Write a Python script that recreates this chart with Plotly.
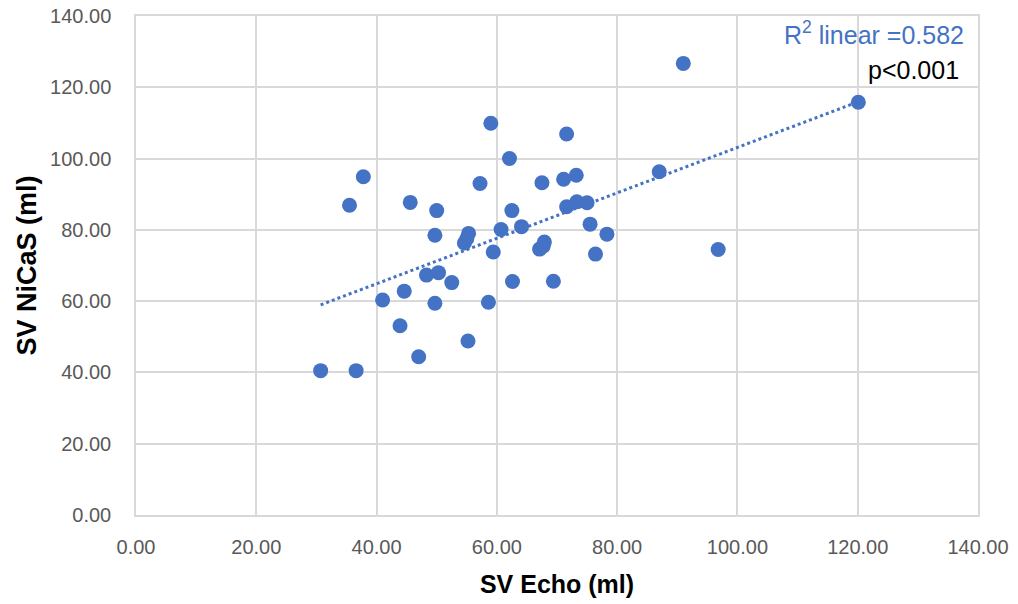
import numpy as np
import plotly.graph_objects as go

sv_echo = [59.0, 71.6, 62.1, 37.8, 57.2, 67.5, 71.1, 73.2, 35.5, 45.6,
           50.0, 62.5, 71.6, 73.3, 75.0, 75.5, 78.3, 76.4, 49.7, 55.3,
           55.0, 54.6, 60.7, 64.1, 59.4, 67.1, 67.7, 67.9, 48.3, 50.3,
           52.5, 62.6, 69.4, 44.6, 41.0, 49.7, 58.6, 43.9, 55.2, 47.0,
           30.7, 36.6, 91.0, 120.1, 87.0, 96.8]
sv_nicas = [109.9, 106.9, 100.0, 94.9, 93.0, 93.2, 94.2, 95.3, 86.9, 87.7,
            85.4, 85.4, 86.5, 87.9, 87.6, 81.6, 78.8, 73.2, 78.5, 79.0,
            77.5, 76.3, 80.1, 80.9, 73.8, 74.6, 75.4, 76.6, 67.3, 68.0,
            65.2, 65.5, 65.6, 62.8, 60.3, 59.4, 59.7, 53.1, 48.8, 44.4,
            40.5, 40.5, 126.7, 115.8, 96.3, 74.5]
tick_vals = [0, 20, 40, 60, 80, 100, 120, 140]
tick_text = ["0.00", "20.00", "40.00", "60.00", "80.00", "100.00", "120.00", "140.00"]

BLUE = "#4472C4"
GRID = "#D9D9D9"
FONT = "Liberation Sans, Arial"

xa = np.array(sv_echo)
ya = np.array(sv_nicas)
slope, intercept = np.polyfit(xa, ya, 1)
tx = np.array([xa.min(), xa.max()])
ty = slope * tx + intercept

fig = go.Figure()
fig.add_trace(go.Scatter(x=tx, y=ty, mode="lines",
                         line=dict(color=BLUE, width=3, dash="dot"),
                         hoverinfo="skip", showlegend=False))
fig.add_trace(go.Scatter(x=sv_echo, y=sv_nicas, mode="markers",
                         marker=dict(color=BLUE, size=15, line=dict(width=0)),
                         showlegend=False))

axis_common = dict(range=[0, 140], tickvals=tick_vals, ticktext=tick_text,
                   showgrid=True, gridcolor=GRID, gridwidth=1.5,
                   showline=True, linecolor=GRID, linewidth=1.5, mirror=True,
                   zeroline=False, ticks="", automargin=False,
                   ticklabeloverflow="allow",
                   tickfont=dict(family=FONT, size=20, color="#595959"))

fig.update_xaxes(**axis_common, ticklabelstandoff=13,
                 title=dict(text="SV Echo (ml)", standoff=19,
                            font=dict(family=FONT, size=25, color="#000000", weight="bold")))
fig.update_yaxes(**axis_common, ticklabelstandoff=19,
                 title=dict(text="SV NiCaS (ml)", standoff=6,
                            font=dict(family=FONT, size=27, color="#000000", weight="bold")))

fig.add_annotation(x=1, y=1, xref="paper", yref="paper", xanchor="right", yanchor="middle",
                   xshift=-12, yshift=-17,
                   text="R<sup>2</sup> linear =0.582", showarrow=False,
                   font=dict(family=FONT, size=25, color=BLUE))
fig.add_annotation(x=1, y=1, xref="paper", yref="paper", xanchor="right", yanchor="middle",
                   xshift=-17, yshift=-54,
                   text="p<0.001", showarrow=False,
                   font=dict(family=FONT, size=25, color="#000000"))

fig.update_layout(width=1018, height=604,
                  margin=dict(l=136, r=40, t=16, b=89),
                  plot_bgcolor="white", paper_bgcolor="white")

# remove the default 8px page margin so the figure sits at the window's origin
fig.write_html("out.html",
               config={"displayModeBar": False},
               post_script="document.body.style.margin='0';document.body.style.overflow='hidden';")
